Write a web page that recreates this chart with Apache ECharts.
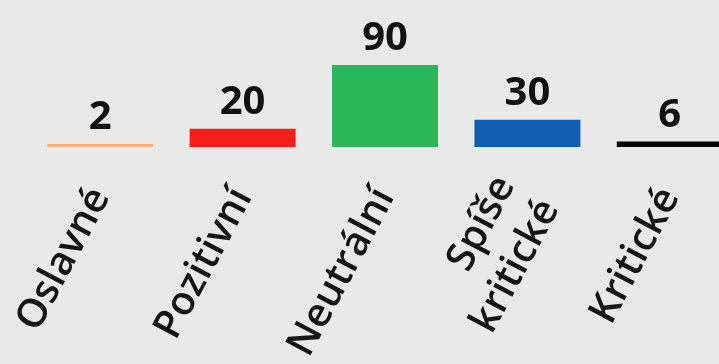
<!DOCTYPE html>
<html>
<head>
<meta charset="utf-8">
<script src="https://cdn.jsdelivr.net/npm/echarts@6/dist/echarts.min.js"></script>
<style>
html,body{margin:0;padding:0;background:#e9e9e9;}
#c{width:719px;height:364px;}
</style>
</head>
<body>
<div id="c"></div>
<script>
const categories = ['Oslavné', 'Pozitivní', 'Neutrální', 'Spíše\nkritické', 'Kritické'];
const values = [2, 20, 90, 30, 6];
const colors = ['#f4ae80', '#f81d1d', '#2db55c', '#115db3', '#000000'];

const chart = echarts.init(document.getElementById('c'));
chart.setOption({
  backgroundColor: '#e9e9e9',
  animation: false,
  grid: { left: 29, right: -22, top: 56, bottom: 217, containLabel: false, outerBoundsMode: 'none' },
  xAxis: {
    type: 'category',
    data: categories.map(c => c.indexOf('\n') >= 0
      ? { value: c, textStyle: { padding: [16, 0, 0, 0] } }
      : c),
    axisLine: { show: false },
    axisTick: { show: false },
    axisLabel: {
      rotate: 62,
      interval: 0,
      margin: 44,
      fontFamily: 'Open Sans',
      fontWeight: 600,
      fontSize: 40,
      lineHeight: 50,
      color: '#151515'
    }
  },
  yAxis: {
    type: 'value',
    min: 0,
    max: 100,
    show: false,
    splitLine: { show: false }
  },
  series: [{
    type: 'bar',
    barWidth: 106,
    barMinHeight: 3,
    data: values.map((v, i) => ({ value: v, itemStyle: { color: colors[i] } })),
    label: {
      show: true,
      position: 'top',
      distance: 6,
      fontFamily: 'Open Sans',
      fontWeight: 'bold',
      fontSize: 40,
      color: '#111111'
    }
  }]
});
</script>
</body>
</html>
